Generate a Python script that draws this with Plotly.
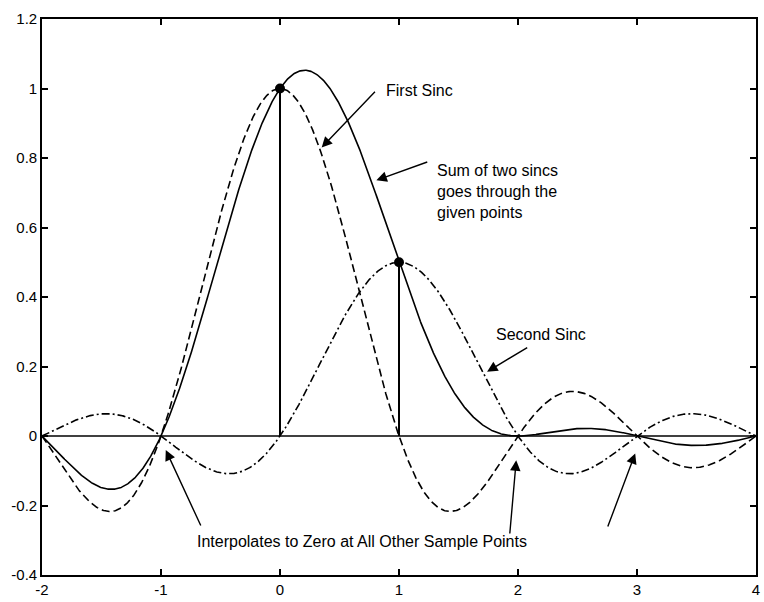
import numpy as np
import plotly.graph_objects as go

# Sample points being interpolated
sample_x = [0, 1]
sample_y = [1.0, 0.5]

# Dense evaluation grid over the plotted range
x_min, x_max = -2, 4
xs = np.linspace(x_min, x_max, 1201)

# Sinc kernels (each sample times its shifted sinc) and their sum
first_sinc = sample_y[0] * np.sinc(xs - sample_x[0])
second_sinc = sample_y[1] * np.sinc(xs - sample_x[1])
sum_sinc = first_sinc + second_sinc

y_ticks = [-0.4, -0.2, 0, 0.2, 0.4, 0.6, 0.8, 1, 1.2]
y_tick_text = ["-0.4", "-0.2", "0", "0.2", "0.4", "0.6", "0.8", "1", "1.2"]
x_ticks = [-2, -1, 0, 1, 2, 3, 4]
x_tick_text = ["-2", "-1", "0", "1", "2", "3", "4"]

FONT = "Liberation Sans, Arial, sans-serif"
LW = 1.6

fig = go.Figure()

# zero axis line
fig.add_trace(go.Scatter(x=[x_min, x_max], y=[0, 0], mode="lines",
                         line=dict(color="black", width=LW), hoverinfo="skip"))
# first sinc (dashed)
fig.add_trace(go.Scatter(x=xs, y=first_sinc, mode="lines",
                         line=dict(color="black", width=LW, dash="8px,4px")))
# second sinc (dash-dot)
fig.add_trace(go.Scatter(x=xs, y=second_sinc, mode="lines",
                         line=dict(color="black", width=LW, dash="8px,3px,2px,3px")))
# sum (solid)
fig.add_trace(go.Scatter(x=xs, y=sum_sinc, mode="lines",
                         line=dict(color="black", width=LW)))
# stems
for sx, sy in zip(sample_x, sample_y):
    fig.add_trace(go.Scatter(x=[sx, sx], y=[0, sy], mode="lines",
                             line=dict(color="black", width=LW + 0.4)))
# sample markers
fig.add_trace(go.Scatter(x=sample_x, y=sample_y, mode="markers",
                         marker=dict(color="black", size=10)))

ann_font = dict(family=FONT, size=16, color="black")

def arrow(tail, head):
    fig.add_annotation(x=head[0], y=head[1], ax=tail[0], ay=tail[1],
                       xref="x", yref="y", axref="x", ayref="y",
                       text="", showarrow=True, arrowhead=2, arrowsize=1.5,
                       arrowwidth=1.4, arrowcolor="black")

def label(x, y, text, xanchor="left"):
    fig.add_annotation(x=x, y=y, xref="x", yref="y", text=text, showarrow=False,
                       xanchor=xanchor, yanchor="middle", align="left", font=ann_font)

label(0.87, 0.993, "First Sinc")
arrow((0.81, 0.995), (0.35, 0.83))

label(1.30, 0.705, "Sum of two sincs<br>goes through the<br>given points")
arrow((1.25, 0.79), (0.81, 0.736))

label(1.80, 0.291, "Second Sinc")
arrow((2.09, 0.257), (1.74, 0.185))

label(0.69, -0.305, "Interpolates to Zero at All Other Sample Points", xanchor="center")
arrow((-0.66, -0.262), (-0.96, -0.04))
arrow((1.93, -0.285), (1.985, -0.07))
arrow((2.75, -0.265), (2.985, -0.05))

axis_common = dict(showgrid=False, zeroline=False, showline=True, linecolor="black",
                   linewidth=1.6, mirror="ticks", ticks="inside", ticklen=6,
                   tickwidth=1.5, tickcolor="black",
                   tickfont=dict(family=FONT, size=15, color="black"))

fig.update_xaxes(range=[x_min, x_max], tickvals=x_ticks, ticktext=x_tick_text,
                 **axis_common)
fig.update_yaxes(range=[-0.4, 1.2], tickvals=y_ticks, ticktext=y_tick_text,
                 **axis_common)

fig.update_layout(width=764, height=602, showlegend=False,
                  plot_bgcolor="white", paper_bgcolor="white",
                  margin=dict(l=42, r=4, t=19, b=22))

fig.write_html("out.html")
